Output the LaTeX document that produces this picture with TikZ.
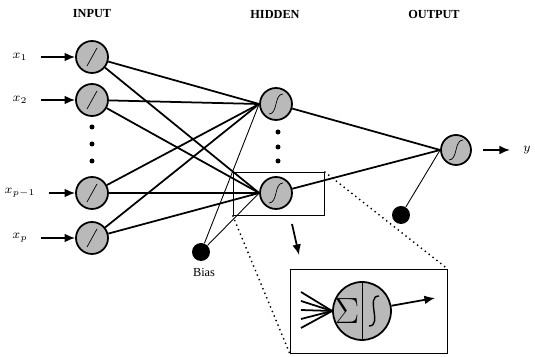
\documentclass[tikz,border=0pt]{standalone}
\usepackage{fontspec}
\setmainfont{Liberation Serif}
\usetikzlibrary{arrows.meta, positioning, calc}
\tikzset{>={Latex[length=6pt,width=5pt]}}
\tikzset{
	neuron/.style={circle, draw, line width=1pt, fill=gray!55, minimum size=0.64cm, inner sep=0pt},
	biasdot/.style={circle, fill=black, minimum size=0.36cm, inner sep=0pt},
	vdot/.style={circle, fill=black, minimum size=0.1cm, inner sep=0pt},
	layertitle/.style={font=\scriptsize\bfseries},
	wire/.style={line width=1pt},
	thinwire/.style={line width=0.5pt},
	inlabel/.style={font=\scriptsize},
}

\begin{document}
\begin{tikzpicture}[x=0.02cm, y=-0.02cm]
	\useasboundingbox (0,0) rectangle (535,357);

	\node[layertitle] (tin) at (92,14) {INPUT};
	\node[layertitle] (thid) at (275,14) {HIDDEN};
	\node[layertitle] (tout) at (434,14) {OUTPUT};

	% input layer
	\foreach \n/\y/\lab in {1/57/x_1, 2/100/x_2, 3/193/x_{p-1}, 4/238/x_p}{
		\node[neuron] (i\n) at (92,\y) {};
		\draw [thin] ($(i\n)+(-5,9)$) -- ($(i\n)+(5,-9)$);
		\node[inlabel] (l\n) at (20,\y) {$\lab$};
		\draw [wire,->, shorten <=4pt] (l\n) -- (i\n);
	}
	\foreach \y in {127,144,161}
		\node[vdot] at (92,\y) {};

	% hidden layer
	\node[neuron] (h1) at (276,104) {};
	\node[neuron] (h2) at (276,193) {};
	\foreach \n in {1,2}
		\draw ($(h\n)+(-7,10)$) .. controls +(9,0) and +(-9,0) .. ($(h\n)+(7,-10)$);
	\foreach \y in {132,147,161}
		\node[vdot] at (278,\y) {};

	\foreach \i in {1,...,4}
		\foreach \h in {1,2}
			\draw [wire] (i\i) -- (h\h.west);

	\node[biasdot] (b1) at (201,252) {};
	\node[inlabel] (bl) at (204,272) {Bias};
	\draw [thinwire] (b1) -- (h1.west);
	\draw [thinwire] (b1) -- (h2.west);

	% output layer
	\node[neuron, minimum size=0.6cm] (o) at (456,150) {};
	\draw ($(o)+(-7,10)$) .. controls +(9,0) and +(-9,0) .. ($(o)+(7,-10)$);
	\foreach \h in {1,2}
		\draw [wire] (h\h) -- (o.west);
	\node[biasdot] (b2) at (401,215) {};
	\draw [thinwire] (b2) -- (o.west);
	\node[inlabel] (ly) at (527,150) {$y$};
	\draw [wire,->, shorten <=6.5pt, shorten >=4pt] (o) -- (ly);

	% zoom on one hidden unit
	\node[draw, thin, minimum width=1.82cm, minimum height=0.86cm] (box) at (278.5,193.5) {};
	\node[draw, thin, minimum width=3.14cm, minimum height=1.68cm] (zoom) at (368.5,311) {};
	\draw [dotted, thick] (box.north east) -- (zoom.north east);
	\draw [dotted, thick] (box.south west) -- (zoom.south west);
	\coordinate (za) at (292,224);
	\coordinate (zb) at (299,255);
	\draw [wire,->] (za) -- (zb);

	\node[neuron, minimum size=1.16cm] (s) at (362,311) {};
	\draw [thin] (s.north) -- (s.south);
	\node (sig) at (347,311) {\huge$\Sigma$};
	\draw [thick] ($(s)+(7,15)$) .. controls +(14,0) and +(-14,0) .. ($(s)+(17,-15)$);
	\foreach \k/\y in {1/292, 2/301, 3/310, 4/319, 5/328}{
		\coordinate (in\k) at (301,\y);
		\draw [wire] (in\k) -- (s.west);
	}
	\coordinate (sout) at (435,298);
	\draw [wire,->] (s) -- (sout);
\end{tikzpicture}
\end{document}
